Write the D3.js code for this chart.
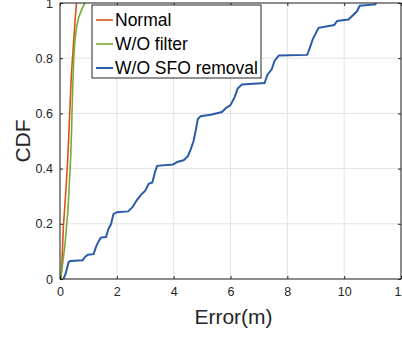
<!DOCTYPE html>
<html>
<head>
<meta charset="utf-8">
<script src="https://cdn.jsdelivr.net/npm/d3@7"></script>
<style>
  body { margin: 0; background: #fff; }
  svg { display: block; font-family: "Liberation Sans", Arial, sans-serif; }
</style>
</head>
<body>
<div id="container"></div>
<script>
// CDF curves, [error(m), cdf]
const normal = [[0.04,0],[0.08,0.09],[0.12,0.19],[0.2,0.31],[0.27,0.43],[0.3,0.5],[0.35,0.62],[0.4,0.74],[0.46,0.83],[0.5,0.89],[0.54,0.95],[0.58,1]];
const noFilter = [[0.02,0],[0.1,0.06],[0.18,0.13],[0.28,0.25],[0.34,0.37],[0.38,0.45],[0.41,0.55],[0.44,0.67],[0.48,0.79],[0.52,0.86],[0.58,0.91],[0.65,0.945],[0.72,0.965],[0.8,0.985],[0.88,1]];
const noSfo = [[0.12,0],[0.2,0.02],[0.3,0.06],[0.36,0.065],[0.8,0.068],[0.88,0.08],[0.98,0.088],[1.18,0.09],[1.28,0.12],[1.38,0.14],[1.44,0.15],[1.62,0.152],[1.7,0.18],[1.8,0.2],[1.88,0.235],[2.0,0.242],[2.4,0.245],[2.55,0.26],[2.7,0.285],[2.85,0.305],[3.0,0.32],[3.12,0.345],[3.25,0.35],[3.35,0.39],[3.42,0.41],[3.98,0.415],[4.15,0.425],[4.35,0.43],[4.5,0.445],[4.6,0.47],[4.7,0.5],[4.78,0.54],[4.85,0.58],[4.95,0.59],[5.3,0.595],[5.7,0.605],[5.85,0.62],[6.0,0.63],[6.15,0.66],[6.25,0.69],[6.4,0.705],[7.2,0.71],[7.3,0.74],[7.45,0.76],[7.55,0.79],[7.7,0.81],[8.7,0.812],[8.8,0.84],[8.9,0.87],[9.0,0.89],[9.1,0.91],[9.65,0.92],[9.75,0.935],[10.15,0.94],[10.3,0.955],[10.45,0.97],[10.55,0.99],[11.1,0.995],[11.12,1]];

const seriesNames = ["Normal", "W/O filter", "W/O SFO removal"];
const xTicks = [0, 2, 4, 6, 8, 10, 12];
const yTicks = [0, 0.2, 0.4, 0.6, 0.8, 1];

const series = [
	{ name: seriesNames[0], values: normal, color: "#d95319", width: 1.6 },
	{ name: seriesNames[1], values: noFilter, color: "#77ac30", width: 1.6 },
	{ name: seriesNames[2], values: noSfo, color: "#2a5ca8", width: 2 }
];

const width = 402;
const height = 337;
const margin = { top: 3, right: 1, bottom: 58, left: 60 };
const axisColor = "#262626";

const svg = d3.select("#container")
	.append("svg")
		.attr("width", width)
		.attr("height", height);

const x = d3.scaleLinear().domain([0, 12]).range([margin.left, width - margin.right]);
const y = d3.scaleLinear().domain([0, 1]).range([height - margin.bottom, margin.top]);

// grid
svg.append("g")
	.selectAll("line")
	.data(xTicks)
	.enter().append("line")
		.attr("x1", (d) => x(d)).attr("x2", (d) => x(d))
		.attr("y1", y(0)).attr("y2", y(1))
		.style("stroke", "#e3e3e3");
svg.append("g")
	.selectAll("line")
	.data(yTicks)
	.enter().append("line")
		.attr("x1", x(0)).attr("x2", x(12))
		.attr("y1", (d) => y(d)).attr("y2", (d) => y(d))
		.style("stroke", "#e3e3e3");

// lines
const lineBuilder = d3.line()
	.x((d) => x(d[0]))
	.y((d) => y(d[1]));

svg.append("g")
	.selectAll("path")
	.data(series)
	.enter().append("path")
		.attr("d", (d) => lineBuilder(d.values))
		.style("fill", "none")
		.style("stroke", (d) => d.color)
		.style("stroke-width", (d) => d.width);

// axes (ticks inside, box on all sides)
const styleAxis = (g) => {
	g.select(".domain").remove();
	g.selectAll(".tick line").style("stroke", axisColor);
	g.selectAll(".tick text").style("fill", axisColor).style("font-size", "12.5px")
		.style("font-family", "Liberation Sans, Arial, sans-serif");
};

svg.append("g")
	.attr("transform", `translate(0, ${y(0)})`)
	.call(d3.axisBottom(x).tickValues(xTicks).tickFormat(d3.format("d")).tickSizeInner(-3).tickSizeOuter(0).tickPadding(8))
	.call(styleAxis);
svg.append("g")
	.attr("transform", `translate(0, ${y(1)})`)
	.call(d3.axisTop(x).tickValues(xTicks).tickFormat("").tickSizeInner(-3).tickSizeOuter(0))
	.call(styleAxis);
svg.append("g")
	.attr("transform", `translate(${x(0)}, 0)`)
	.call(d3.axisLeft(y).tickValues(yTicks).tickFormat((d) => d === 0 || d === 1 ? d : d.toFixed(1)).tickSizeInner(-3).tickSizeOuter(0).tickPadding(7))
	.call(styleAxis);
svg.append("g")
	.attr("transform", `translate(${x(12)}, 0)`)
	.call(d3.axisRight(y).tickValues(yTicks).tickFormat("").tickSizeInner(-3).tickSizeOuter(0))
	.call(styleAxis);

svg.append("rect")
	.attr("x", x(0)).attr("y", y(1))
	.attr("width", x(12) - x(0)).attr("height", y(0) - y(1))
	.style("fill", "none")
	.style("stroke", axisColor)
	.style("stroke-width", 1);

// axis titles
svg.append("text")
	.text("Error(m)")
	.attr("x", (x(0) + x(12)) / 2 + 3)
	.attr("y", 324)
	.attr("text-anchor", "middle")
	.style("font-size", "21px")
	.style("fill", axisColor);
svg.append("text")
	.text("CDF")
	.attr("transform", `translate(30, ${(y(0) + y(1)) / 2}) rotate(-90)`)
	.attr("text-anchor", "middle")
	.style("font-size", "21px")
	.style("fill", axisColor);

// legend
const legend = svg.append("g").attr("transform", "translate(92, 5)");
legend.append("rect")
	.attr("width", 169).attr("height", 73)
	.style("fill", "#fff")
	.style("stroke", axisColor)
	.style("stroke-width", 1);
const items = legend.selectAll(".item")
	.data(series)
	.enter().append("g")
		.attr("class", "item")
		.attr("transform", (d, i) => `translate(0, ${21 + i * 24})`);
items.append("line")
	.attr("x1", 4).attr("x2", 21)
	.attr("y1", -6).attr("y2", -6)
	.style("stroke", (d) => d.color)
	.style("stroke-width", (d) => d.width);
items.append("text")
	.text((d) => d.name)
	.attr("x", 23)
	.style("font-size", "17.5px")
	.style("fill", "#000");
</script>
</body>
</html>
